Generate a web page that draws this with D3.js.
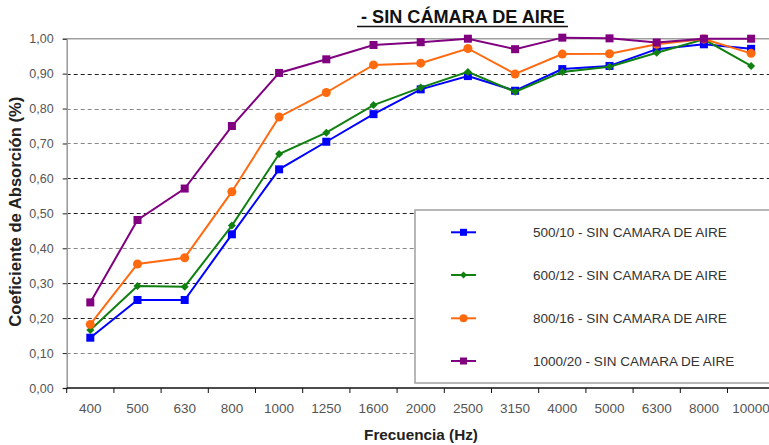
<!DOCTYPE html>
<html><head><meta charset="utf-8">
<script src="https://cdn.jsdelivr.net/npm/d3@7"></script>
<style>body{margin:0;background:#fff}svg{display:block}</style>
</head><body>
<script>
const categories = ["400","500","630","800","1000","1250","1600","2000","2500","3150","4000","5000","6300","8000","10000"];
const s500  = [0.144,0.252,0.252,0.440,0.626,0.705,0.784,0.855,0.893,0.851,0.913,0.922,0.970,0.984,0.971];
const s600  = [0.166,0.292,0.290,0.465,0.670,0.731,0.810,0.860,0.905,0.848,0.905,0.920,0.960,0.998,0.922];
const s800  = [0.182,0.355,0.373,0.562,0.776,0.846,0.925,0.930,0.972,0.899,0.956,0.957,0.984,0.999,0.958];
const s1000 = [0.245,0.481,0.571,0.750,0.902,0.941,0.982,0.990,1.000,0.970,1.003,1.001,0.989,1.000,1.000];
const seriesNames = ["500/10 - SIN CAMARA DE AIRE","600/12 - SIN CAMARA DE AIRE","800/16 - SIN CAMARA DE AIRE","1000/20 - SIN CAMARA DE AIRE"];
const yTicks = [0,0.1,0.2,0.3,0.4,0.5,0.6,0.7,0.8,0.9,1.0];
const chartTitle = "- SIN CÁMARA DE AIRE";
const xTitle = "Frecuencia (Hz)";
const yTitle = "Coeficiente de Absorción (%)";

const series = [
  {name: seriesNames[0], values: s500,  color: "#0000ff", marker: "square", size: 8},
  {name: seriesNames[1], values: s600,  color: "#108010", marker: "diamond", size: 7},
  {name: seriesNames[2], values: s800,  color: "#ff6a10", marker: "circle", size: 9},
  {name: seriesNames[3], values: s1000, color: "#800080", marker: "square", size: 8}
];

const FONT = "Arial, 'Liberation Sans', sans-serif";
const W = 769, H = 445;
const pL = 66.7, pT = 38.7, pB = 388, pR = 774.7;
const svg = d3.select("body").append("svg").attr("width", W).attr("height", H);

function fitText(sel, target) {
  const node = sel.node();
  const fs = parseFloat(sel.attr("font-size"));
  const len = node.getComputedTextLength();
  if (len > 0) sel.attr("font-size", (fs * target / len).toFixed(2));
  return sel;
}

const x = d3.scaleBand().domain(categories).range([pL, pR]);
const y = d3.scaleLinear().domain([0, 1]).range([pB, pT]);

// gridlines
const darkGrid = new Set([0.2,0.3,0.5,0.6,0.9]);
svg.append("g").selectAll("line").data(yTicks.filter(t => t > 0 && t < 1)).join("line")
  .attr("x1", pL).attr("x2", pR)
  .attr("y1", d => Math.round(y(d)) + 0.5).attr("y2", d => Math.round(y(d)) + 0.5)
  .attr("stroke", d => darkGrid.has(Math.round(d*10)/10) ? "#222" : "#888")
  .attr("stroke-width", 1)
  .attr("stroke-dasharray", "4,3");

// top border
svg.append("line").attr("x1", pL).attr("x2", pR)
  .attr("y1", y(1)).attr("y2", y(1)).attr("stroke", "#a0a0a0").attr("stroke-width", 1.5);

// y axis
const yAxis = d3.axisLeft(y).tickValues(yTicks).tickSize(4)
  .tickFormat(d => d3.format(".2f")(d).replace(".", ","));
const gy = svg.append("g").attr("transform", `translate(${pL},0)`).call(yAxis);
gy.select(".domain").attr("stroke", "#999").attr("stroke-width", 1.5);
gy.selectAll(".tick line").attr("stroke", "#222");
gy.selectAll(".tick text").attr("fill", "#555").attr("font-family", FONT)
  .attr("font-size", 12.5).attr("x", -13);

// x axis
const xAxis = d3.axisBottom(x).tickSize(0).tickPadding(15);
const gx = svg.append("g").attr("transform", `translate(0,${pB})`).call(xAxis);
gx.select(".domain").remove();
gx.selectAll(".tick text").attr("fill", "#555").attr("font-family", FONT)
  .attr("font-size", 13.5);
svg.append("line").attr("x1", pL).attr("x2", pR).attr("y1", pB).attr("y2", pB)
  .attr("stroke", "#111").attr("stroke-width", 1.5);
svg.append("g").selectAll("line").data(categories.concat(["__end"])).join("line")
  .attr("x1", (d,i) => pL + i * x.step()).attr("x2", (d,i) => pL + i * x.step())
  .attr("y1", pB).attr("y2", pB + 5).attr("stroke", "#111").attr("stroke-width", 1);

// legend box
svg.append("rect").attr("x", 415).attr("y", 210).attr("width", 370).attr("height", 173)
  .attr("fill", "#fff").attr("stroke", "#a0a0a0").attr("stroke-width", 1.5);

function drawMarker(g, type, size, color) {
  if (type === "circle") {
    g.append("circle").attr("r", size/2).attr("fill", color);
  } else if (type === "square") {
    g.append("rect").attr("x", -size/2).attr("y", -size/2).attr("width", size).attr("height", size).attr("fill", color);
  } else {
    const s = size/2 + 0.5;
    g.append("path").attr("d", `M0,${-s}L${s},0L0,${s}L${-s},0Z`).attr("fill", color);
  }
}

const line = d3.line().x((d,i) => x(categories[i]) + x.bandwidth()/2).y(d => y(d));
series.forEach(s => {
  svg.append("path").datum(s.values).attr("d", line).attr("fill", "none")
    .attr("stroke", s.color).attr("stroke-width", 2);
  s.values.forEach((v, i) => {
    const g = svg.append("g").attr("transform", `translate(${x(categories[i]) + x.bandwidth()/2},${y(v)})`);
    drawMarker(g, s.marker, s.size, s.color);
  });
});

// legend entries
const legendY = [232.3, 275, 318.3, 361];
let legendFs = null;
series.forEach((s, i) => {
  const ly = legendY[i];
  svg.append("line").attr("x1", 451).attr("x2", 476).attr("y1", ly).attr("y2", ly)
    .attr("stroke", s.color).attr("stroke-width", 2);
  const g = svg.append("g").attr("transform", `translate(463.5,${ly})`);
  drawMarker(g, s.marker, s.size - 1, s.color);
  const tx = svg.append("text").attr("x", 533).attr("y", ly).attr("dy", "0.35em")
    .attr("font-family", FONT).attr("font-size", 12.5)
    .attr("fill", "#333").text(s.name);
  if (i === 0) { fitText(tx, 194); legendFs = tx.attr("font-size"); }
  else tx.attr("font-size", legendFs);
});

// titles
const t = svg.append("text").attr("x", 463).attr("y", 23.3).attr("text-anchor", "middle")
  .attr("font-family", FONT).attr("font-size", 16)
  .attr("font-weight", "bold").attr("fill", "#111").text(chartTitle);
fitText(t, 204);
const bb = t.node().getBBox();
svg.append("line").attr("x1", bb.x - 4).attr("x2", bb.x + bb.width + 3).attr("y1", 26.5).attr("y2", 26.5)
  .attr("stroke", "#111").attr("stroke-width", 1.6);

const xt = svg.append("text").attr("x", 421).attr("y", 440).attr("text-anchor", "middle")
  .attr("font-family", FONT).attr("font-size", 14)
  .attr("font-weight", "bold").attr("fill", "#222").text(xTitle);
fitText(xt, 114);

const yt = svg.append("text").attr("transform", "translate(20.5,211.7) rotate(-90)").attr("text-anchor", "middle")
  .attr("font-family", FONT).attr("font-size", 14)
  .attr("font-weight", "bold").attr("fill", "#222").text(yTitle);
fitText(yt, 230);
</script>
</body></html>
